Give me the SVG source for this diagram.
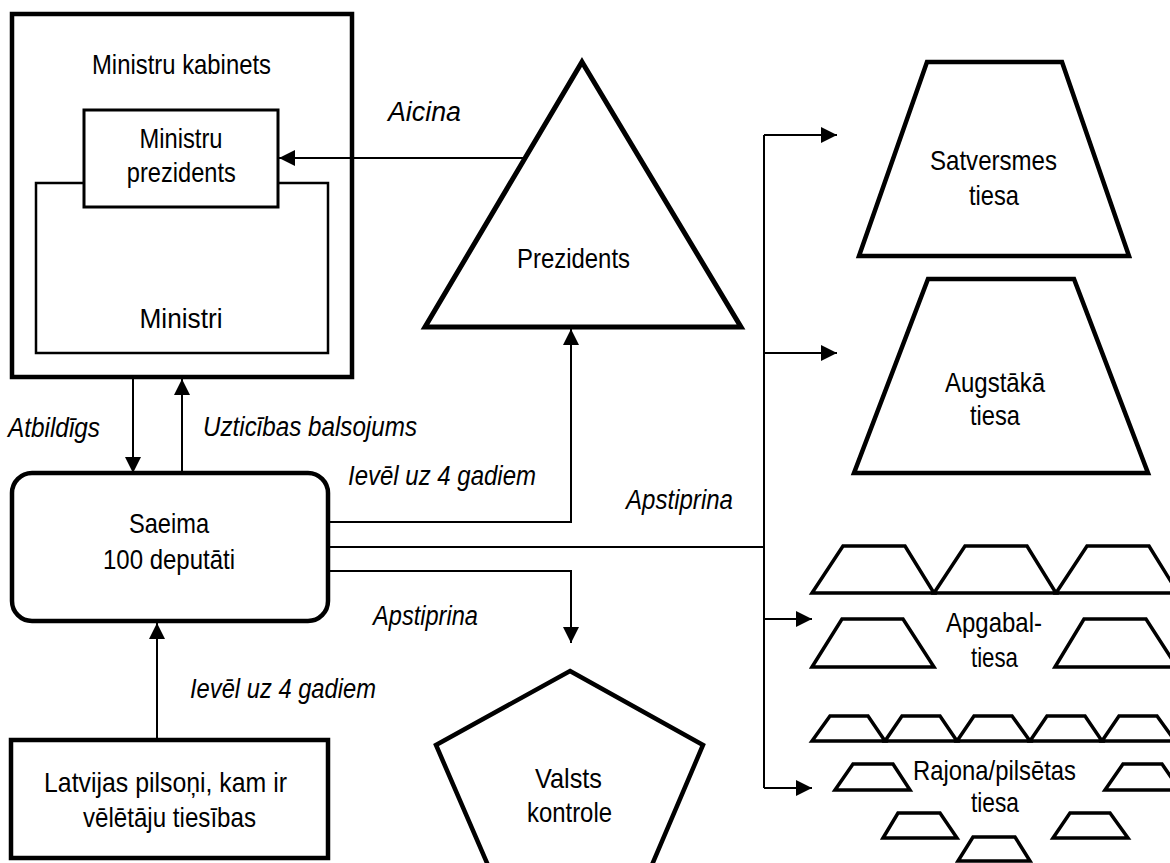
<svg xmlns="http://www.w3.org/2000/svg" width="1170" height="863" viewBox="0 0 1170 863">
<defs>
<marker id="arr" markerUnits="userSpaceOnUse" markerWidth="16" markerHeight="16" refX="16" refY="8" orient="auto">
<path d="M0,0 L16,8 L0,16 z" fill="#000"/>
</marker>
</defs>
<style>
.shape{fill:#fff;stroke:#000;stroke-width:4.5;stroke-linejoin:miter}
.thin{fill:#fff;stroke:#000;stroke-width:2.5}
.court{fill:#fff;stroke:#000;stroke-width:3.5;stroke-linejoin:miter}
.conn{fill:none;stroke:#000;stroke-width:2}
.lbl{font-family:"Liberation Sans",Arial,sans-serif;font-size:28px;fill:#000;text-anchor:middle}
.it{font-family:"Liberation Sans",Arial,sans-serif;font-size:27px;font-style:italic;fill:#000}
</style>
<rect width="1170" height="863" fill="#fff"/>

<g id="ministru-kabinets">
<rect class="shape" x="12" y="14" width="340" height="363"/>
<text class="lbl" x="181.5" y="74" textLength="179" lengthAdjust="spacingAndGlyphs">Ministru kabinets</text>
</g>
<g id="ministri">
<rect class="thin" x="36" y="183" width="292" height="170"/>
<text class="lbl" x="181" y="328" textLength="83" lengthAdjust="spacingAndGlyphs">Ministri</text>
</g>
<g id="ministru-prezidents">
<rect class="shape" style="stroke-width:3" x="84" y="110" width="194" height="97"/>
<text class="lbl" x="181" y="148" textLength="83" lengthAdjust="spacingAndGlyphs">Ministru</text>
<text class="lbl" x="181.3" y="182" textLength="109" lengthAdjust="spacingAndGlyphs">prezidents</text>
</g>

<g id="prezidents">
<polygon class="shape" style="stroke-width:5" points="582,62 741,327 425,327"/>
<text class="lbl" x="573.5" y="268" textLength="113" lengthAdjust="spacingAndGlyphs">Prezidents</text>
</g>

<g id="saeima">
<rect class="shape" x="12" y="473" width="316" height="148" rx="20" ry="20"/>
<text class="lbl" x="169" y="533" textLength="80" lengthAdjust="spacingAndGlyphs">Saeima</text>
<text class="lbl" x="169" y="569" textLength="132" lengthAdjust="spacingAndGlyphs">100 deputāti</text>
</g>

<g id="pilsoni">
<rect class="shape" x="11" y="740" width="317" height="118"/>
<text class="lbl" x="165.5" y="792" textLength="243" lengthAdjust="spacingAndGlyphs">Latvijas pilsoņi, kam ir</text>
<text class="lbl" x="169.5" y="827" textLength="173" lengthAdjust="spacingAndGlyphs">vēlētāju tiesības</text>
</g>

<g id="valsts-kontrole">
<polygon class="shape" points="570,671 703,745 637,900 503,900 436,745"/>
<text class="lbl" x="568.5" y="788" textLength="67" lengthAdjust="spacingAndGlyphs">Valsts</text>
<text class="lbl" x="569.5" y="822" textLength="85" lengthAdjust="spacingAndGlyphs">kontrole</text>
</g>

<g id="satversmes-tiesa">
<polygon class="shape" points="927,62 1062,62 1129,256 859,256"/>
<text class="lbl" x="993.5" y="170" textLength="127" lengthAdjust="spacingAndGlyphs">Satversmes</text>
<text class="lbl" x="994" y="205" textLength="50" lengthAdjust="spacingAndGlyphs">tiesa</text>
</g>

<g id="augstaka-tiesa">
<polygon class="shape" points="928,279 1074,279 1148,473 854,473"/>
<text class="lbl" x="995" y="392" textLength="100" lengthAdjust="spacingAndGlyphs">Augstākā</text>
<text class="lbl" x="995" y="425" textLength="50" lengthAdjust="spacingAndGlyphs">tiesa</text>
</g>

<g id="apgabaltiesa">
<polygon class="court" points="812,593 843,546 905,546 934,593"/>
<polygon class="court" points="934,593 965,546 1027,546 1056,593"/>
<polygon class="court" points="1056,593 1087,546 1149,546 1178,593"/>
<polygon class="court" points="812,667 842,619 903,619 934,667"/>
<polygon class="court" points="1055,667 1084,619 1146,619 1177,667"/>
<text class="lbl" x="994" y="632" textLength="96" lengthAdjust="spacingAndGlyphs">Apgabal-</text>
<text class="lbl" x="994.5" y="667" textLength="47" lengthAdjust="spacingAndGlyphs">tiesa</text>
</g>

<g id="rajona-tiesa">
<polygon class="court" points="812,741 830,716 868,716 885,741"/>
<polygon class="court" points="885,741 902,716 940,716 957,741"/>
<polygon class="court" points="957,741 974,716 1012,716 1030,741"/>
<polygon class="court" points="1030,741 1047,716 1085,716 1102,741"/>
<polygon class="court" points="1102,741 1119,716 1157,716 1175,741"/>
<polygon class="court" points="835,790 853,764 893,764 910,790"/>
<polygon class="court" points="1105,790 1123,764 1162,764 1180,790"/>
<polygon class="court" points="883,838 898,813 940,813 957,838"/>
<polygon class="court" points="1053,838 1070,813 1110,813 1128,838"/>
<polygon class="court" points="958,861 973,837 1015,837 1030,861"/>
<text class="lbl" x="994.5" y="780" textLength="163" lengthAdjust="spacingAndGlyphs">Rajona/pilsētas</text>
<text class="lbl" x="995" y="812" textLength="48" lengthAdjust="spacingAndGlyphs">tiesa</text>
</g>

<g id="connectors">
<path class="conn" d="M525,158 H279" marker-end="url(#arr)"/>
<path class="conn" d="M133,379 V473" marker-end="url(#arr)"/>
<path class="conn" d="M182,473 V379" marker-end="url(#arr)"/>
<path class="conn" d="M330,522 H571 V329" marker-end="url(#arr)"/>
<path class="conn" d="M330,547 H764"/>
<path class="conn" d="M764,135 V788"/>
<path class="conn" d="M764,135 H837" marker-end="url(#arr)"/>
<path class="conn" d="M764,353 H837" marker-end="url(#arr)"/>
<path class="conn" d="M764,619 H812" marker-end="url(#arr)"/>
<path class="conn" d="M764,788 H812" marker-end="url(#arr)"/>
<path class="conn" d="M330,571 H571 V643" marker-end="url(#arr)"/>
<path class="conn" d="M157,740 V623" marker-end="url(#arr)"/>
</g>

<g id="labels">
<text class="it" x="388" y="121" textLength="73" lengthAdjust="spacingAndGlyphs">Aicina</text>
<text class="it" x="8" y="437" textLength="92" lengthAdjust="spacingAndGlyphs">Atbildīgs</text>
<text class="it" x="203" y="436" textLength="214" lengthAdjust="spacingAndGlyphs">Uzticības balsojums</text>
<text class="it" x="348" y="485" textLength="188" lengthAdjust="spacingAndGlyphs">Ievēl uz 4 gadiem</text>
<text class="it" x="626" y="509" textLength="107" lengthAdjust="spacingAndGlyphs">Apstiprina</text>
<text class="it" x="373" y="625" textLength="105" lengthAdjust="spacingAndGlyphs">Apstiprina</text>
<text class="it" x="190" y="698" textLength="186" lengthAdjust="spacingAndGlyphs">Ievēl uz 4 gadiem</text>
</g>
</svg>
